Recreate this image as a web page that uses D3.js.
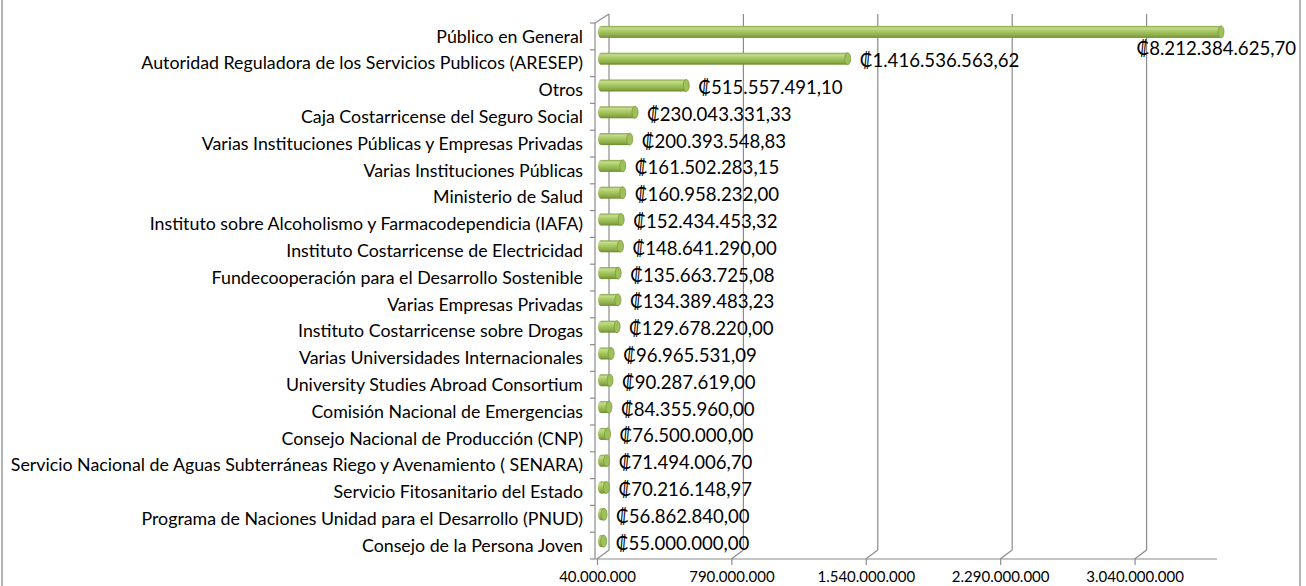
<!DOCTYPE html>
<html>
<head>
<meta charset="utf-8">
<script src="https://cdn.jsdelivr.net/npm/d3@7"></script>
<style>
  body { margin: 0; background: #fff; }
  text { font-family: Lato, "Noto Sans", "DejaVu Sans", sans-serif; fill: #000; }
</style>
</head>
<body>
<div id="chart-area"></div>
<script>
// Data
var categories = [
  "Público en General",
  "Autoridad Reguladora de los Servicios Publicos (ARESEP)",
  "Otros",
  "Caja Costarricense del Seguro Social",
  "Varias Instituciones Públicas y Empresas Privadas",
  "Varias Instituciones Públicas",
  "Ministerio de Salud",
  "Instituto sobre Alcoholismo y Farmacodependicia (IAFA)",
  "Instituto Costarricense de Electricidad",
  "Fundecooperación para el Desarrollo Sostenible",
  "Varias Empresas Privadas",
  "Instituto Costarricense sobre Drogas",
  "Varias Universidades Internacionales",
  "University Studies Abroad Consortium",
  "Comisión Nacional de Emergencias",
  "Consejo Nacional de Producción (CNP)",
  "Servicio Nacional de Aguas Subterráneas Riego y Avenamiento ( SENARA)",
  "Servicio Fitosanitario del Estado",
  "Programa de Naciones Unidad para el Desarrollo (PNUD)",
  "Consejo de la Persona Joven"
];
var values = [
  8212384625.70, 1416536563.62, 515557491.10, 230043331.33, 200393548.83,
  161502283.15, 160958232.00, 152434453.32, 148641290.00, 135663725.08,
  134389483.23, 129678220.00, 96965531.09, 90287619.00, 84355960.00,
  76500000.00, 71494006.70, 70216148.97, 56862840.00, 55000000.00
];
var tickValues = [40000000, 790000000, 1540000000, 2290000000, 3040000000];
var axisMin = 40000000, axisMax = 3500000000;

var width = 1306, height = 586;
var depth = { dx: 12, dy: -9 };
var plot = { left: 597, right: 1217, top: 23, bottom: 559 };

var locale = d3.formatLocale({ decimal: ",", thousands: ".", grouping: [3], currency: ["₡", ""] });
var fmtValue = locale.format("$,.2f");
var fmtTick = locale.format(",.0f");

var svg = d3.select("#chart-area")
    .append("svg")
    .attr("width", width)
    .attr("height", height);

// Chart border
svg.append("rect")
    .attr("x", 2).attr("y", -10)
    .attr("width", 1298).attr("height", height + 20)
    .attr("fill", "#fff")
    .attr("stroke", "#b3b3b3")
    .attr("stroke-width", 2);

// Scales
var x = d3.scaleLinear().domain([axisMin, axisMax]).range([plot.left, plot.right]);
var y = d3.scaleBand().domain(categories).range([plot.top, plot.bottom]);

var lineColor = "#8c8c8c";
var grid = svg.append("g").attr("class", "grid");

// Back wall gridlines + floor diagonals
tickValues.forEach(function(t) {
    var fx = x(t);
    grid.append("line")
        .attr("x1", fx + depth.dx).attr("x2", fx + depth.dx)
        .attr("y1", plot.top + depth.dy).attr("y2", plot.bottom + depth.dy)
        .attr("stroke", lineColor).attr("stroke-width", 1.2);
    grid.append("line")
        .attr("x1", fx).attr("x2", fx + depth.dx)
        .attr("y1", plot.bottom).attr("y2", plot.bottom + depth.dy)
        .attr("stroke", lineColor).attr("stroke-width", 1.2);
});
// Left wall top diagonal
grid.append("line")
    .attr("x1", plot.left - 2).attr("x2", x(axisMin) + depth.dx)
    .attr("y1", plot.top).attr("y2", plot.top + depth.dy)
    .attr("stroke", lineColor).attr("stroke-width", 1.2);

// Bar gradient (cylinder look)
var defs = svg.append("defs");
var grad = defs.append("linearGradient")
    .attr("id", "cyl").attr("x1", 0).attr("x2", 0).attr("y1", 0).attr("y2", 1);
[["0%", "#86a545"], ["18%", "#c4dc8c"], ["45%", "#a7c862"], ["80%", "#8aab47"], ["100%", "#6c8a33"]]
    .forEach(function(s) { grad.append("stop").attr("offset", s[0]).attr("stop-color", s[1]); });

var barH = 12, capR = 3;
var bars = svg.append("g").attr("class", "bars");
categories.forEach(function(c, i) {
    var v = Math.min(values[i], axisMax);
    var cy = y(c) + y.bandwidth() / 2 + depth.dy / 2;
    var x0 = x(axisMin) + depth.dx / 2 - 2;
    var x1 = x(v) + depth.dx / 2 - 2;
    bars.append("ellipse")
        .attr("cx", x0).attr("cy", cy).attr("rx", capR).attr("ry", barH / 2)
        .attr("fill", "url(#cyl)");
    bars.append("rect")
        .attr("x", x0).attr("y", cy - barH / 2)
        .attr("width", Math.max(0, x1 - x0)).attr("height", barH)
        .attr("fill", "url(#cyl)");
    bars.append("ellipse")
        .attr("cx", x1).attr("cy", cy).attr("rx", capR).attr("ry", barH / 2)
        .attr("fill", "#9ec05a").attr("stroke", "#7d9c3e").attr("stroke-width", 0.8);
});

// Front axes
var axes = svg.append("g").attr("class", "axes");
axes.append("line")
    .attr("x1", plot.left - 2).attr("x2", plot.left - 2)
    .attr("y1", plot.top).attr("y2", plot.bottom)
    .attr("stroke", lineColor).attr("stroke-width", 1.2);
axes.append("line")
    .attr("x1", plot.left - 2).attr("x2", plot.right)
    .attr("y1", plot.bottom).attr("y2", plot.bottom)
    .attr("stroke", lineColor).attr("stroke-width", 1.2);
// category tick marks
categories.concat([null]).forEach(function(c, i) {
    var ty = plot.top + i * y.bandwidth();
    axes.append("line")
        .attr("x1", plot.left - 7).attr("x2", plot.left - 2)
        .attr("y1", ty).attr("y2", ty)
        .attr("stroke", lineColor).attr("stroke-width", 1.2);
});

// X axis labels
var xAxisCall = d3.axisBottom(x).tickValues(tickValues).tickFormat(fmtTick).tickSize(6).tickPadding(6);
var xAxis = svg.append("g")
    .attr("transform", "translate(0," + plot.bottom + ")")
    .call(xAxisCall);
xAxis.select(".domain").remove();
xAxis.selectAll(".tick line").attr("stroke", lineColor).attr("stroke-width", 1.2);
xAxis.selectAll("text").attr("font-size", "15px").attr("font-family", "Lato, 'Noto Sans', sans-serif");

// Category labels
svg.append("g").selectAll("text")
    .data(categories)
    .enter().append("text")
    .attr("x", plot.left - 14)
    .attr("y", function(d) { return y(d) + y.bandwidth() / 2; })
    .attr("dy", "0.35em")
    .attr("text-anchor", "end")
    .attr("font-size", "17.8px")
    .text(function(d) { return d; });

// Value labels
svg.append("g").selectAll("text")
    .data(categories)
    .enter().append("text")
    .each(function(d, i) {
        var t = d3.select(this);
        var cy = y(d) + y.bandwidth() / 2 + depth.dy / 2;
        if (values[i] > axisMax) {
            t.attr("x", width - 10).attr("y", cy + 17).attr("text-anchor", "end");
        } else {
            t.attr("x", x(values[i]) + depth.dx / 2 + 10).attr("y", cy + 2).attr("text-anchor", "start");
        }
    })
    .attr("dy", "0.35em")
    .attr("font-size", "18.6px")
    .text(function(d, i) { return fmtValue(values[i]); });
</script>
</body>
</html>
